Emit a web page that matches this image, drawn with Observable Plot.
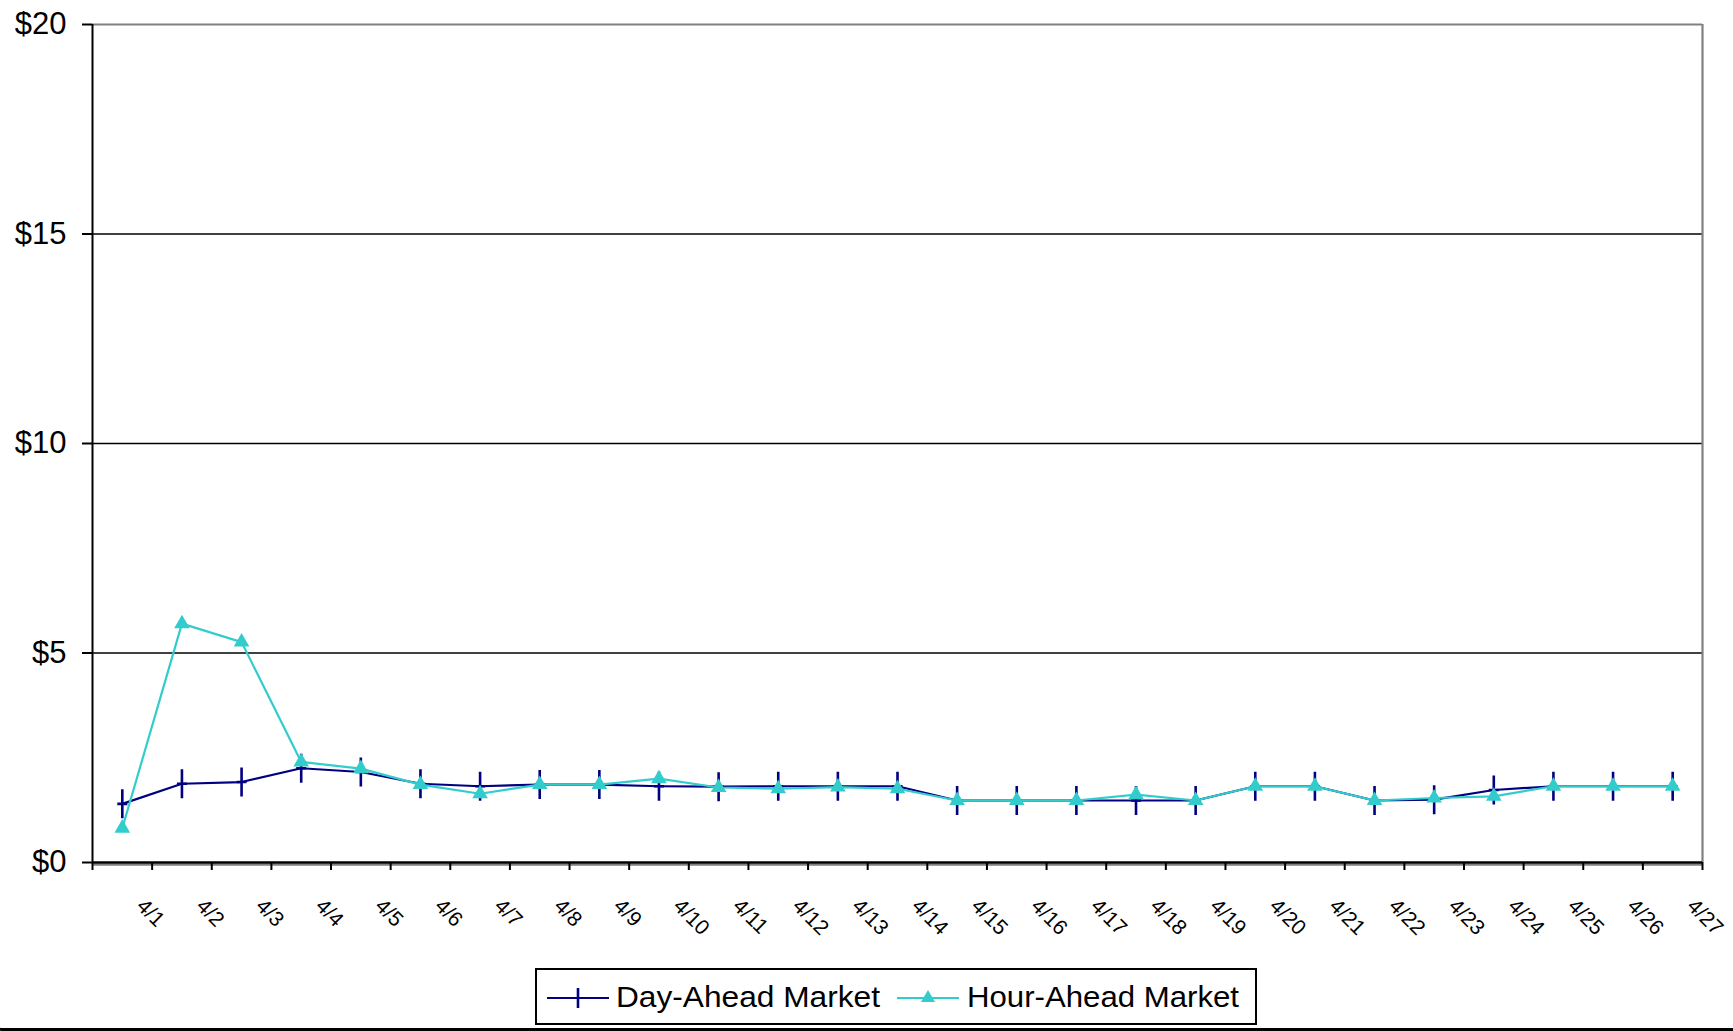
<!DOCTYPE html>
<html>
<head>
<meta charset="utf-8">
<script src="https://cdn.jsdelivr.net/npm/d3@7"></script>
<script src="https://cdn.jsdelivr.net/npm/@observablehq/plot@0.6"></script>
<style>
  html, body { margin: 0; padding: 0; background: #fff; }
  body { width: 1733px; height: 1031px; overflow: hidden; position: relative;
         font-family: "Liberation Sans", Arial, sans-serif; color: #000; }
  #chart { position: absolute; left: 0; top: 0; }
  #legend { position: absolute; left: 535px; top: 968px; }
  #frame { position: absolute; left: -10px; top: -20px; width: 1760px; height: 1051px;
           border: 3px solid #000; border-radius: 12px; box-sizing: border-box; pointer-events: none; }
</style>
</head>
<body>
<div id="frame"></div>
<div id="chart"></div>
<svg id="legend" width="722" height="58"></svg>
<script>
// ---- data ----
const dates = ["4/1","4/2","4/3","4/4","4/5","4/6","4/7","4/8","4/9","4/10","4/11","4/12","4/13","4/14",
               "4/15","4/16","4/17","4/18","4/19","4/20","4/21","4/22","4/23","4/24","4/25","4/26","4/27"];
const dayAhead  = [1.40,1.88,1.92,2.25,2.16,1.88,1.82,1.86,1.86,1.82,1.81,1.82,1.82,1.82,
                   1.48,1.48,1.48,1.48,1.48,1.82,1.82,1.48,1.50,1.73,1.82,1.82,1.82];
const hourAhead = [0.82,5.70,5.26,2.40,2.24,1.86,1.64,1.86,1.86,2.00,1.79,1.76,1.80,1.76,
                   1.48,1.48,1.48,1.62,1.48,1.82,1.82,1.48,1.54,1.58,1.82,1.82,1.82];
const yTicks = [0, 5, 10, 15, 20];
const yTickLabels = ["$0", "$5", "$10", "$15", "$20"];
const seriesNames = ["Day-Ahead Market", "Hour-Ahead Market"];
const seriesColors = ["#000080", "#33CCCC"];

// ---- derived table ----
const table = dates.map((d, i) => ({i, date: d, da: dayAhead[i], ha: hourAhead[i]}));
const boundaries = d3.range(dates.length + 1).map(k => k - 0.5);

const plusSym = {
  draw(ctx, size) {
    const r = Math.sqrt(size / Math.PI);
    ctx.moveTo(0, -r); ctx.lineTo(0, r);
    ctx.moveTo(-5, 0); ctx.lineTo(5, 0);
  }
};

const W = 1733, H = 960;
const svg = Plot.plot({
  width: W,
  height: H,
  marginLeft: 92,
  marginRight: 31,
  marginTop: 24,
  marginBottom: H - 862,
  style: {fontFamily: "'Liberation Sans', Arial, sans-serif", fontSize: "31px", color: "#000", background: "#fff", overflow: "visible"},
  x: {type: "linear", domain: [-0.5, dates.length - 0.5]},
  y: {type: "linear", domain: [0, 20]},
  marks: [
    Plot.ruleY([5, 10, 15], {stroke: "#000", strokeWidth: 1.5}),
    Plot.ruleY([20], {stroke: "#808080", strokeWidth: 2.2}),
    Plot.ruleX([dates.length - 0.5], {stroke: "#808080", strokeWidth: 2.2}),
    Plot.ruleY([0], {stroke: "#808080", strokeWidth: 2.2, dy: 2.2}),
    Plot.ruleY([0], {stroke: "#000", strokeWidth: 2.5}),
    Plot.ruleX([-0.5], {stroke: "#000", strokeWidth: 2}),
    Plot.axisX({ticks: boundaries, tickSize: 8, tickFormat: () => "", label: null, strokeWidth: 2, stroke: "#000"}),
    Plot.axisY({ticks: yTicks, tickSize: 10, tickPadding: 16, label: null, strokeWidth: 2, stroke: "#000",
                tickFormat: d => yTickLabels[yTicks.indexOf(d)], fontSize: 31, fill: "#000"}),
    Plot.text(table, {x: "i", y: () => 0, text: "date", rotate: 45, textAnchor: "start",
                      dx: 18, dy: 40, fontSize: 21, fill: "#000"}),
    Plot.line(table, {x: "i", y: "da", stroke: seriesColors[0], strokeWidth: 2.2}),
    Plot.dot(table, {x: "i", y: "da", symbol: plusSym, r: 14.5, stroke: seriesColors[0], strokeWidth: 2.6, fill: "none"}),
    Plot.line(table, {x: "i", y: "ha", stroke: seriesColors[1], strokeWidth: 2.2}),
    Plot.dot(table, {x: "i", y: "ha", symbol: "triangle", r: 5.8, fill: seriesColors[1], stroke: "none"})
  ]
});
document.getElementById("chart").appendChild(svg);

// ---- legend ----
const lg = d3.select("#legend");
lg.append("rect").attr("x", 1).attr("y", 1).attr("width", 720).attr("height", 55)
  .attr("fill", "#fff").attr("stroke", "#000").attr("stroke-width", 2);
const items = [
  {x0: 12, textX: 81, len: 264},
  {x0: 362, textX: 432, len: 272}
];
items.forEach((it, k) => {
  lg.append("line").attr("x1", it.x0).attr("x2", it.x0 + 62).attr("y1", 30).attr("y2", 30)
    .attr("stroke", seriesColors[k]).attr("stroke-width", 2.2);
  if (k === 0) {
    lg.append("line").attr("x1", it.x0 + 31).attr("x2", it.x0 + 31).attr("y1", 20).attr("y2", 40)
      .attr("stroke", seriesColors[k]).attr("stroke-width", 2.6);
  } else {
    lg.append("path").attr("transform", `translate(${it.x0 + 31},30)`)
      .attr("d", d3.symbol(d3.symbolTriangle, 85)()).attr("fill", seriesColors[k]);
  }
  lg.append("text").attr("x", it.textX).attr("y", 39)
    .attr("font-family", "'Liberation Sans', Arial, sans-serif").attr("font-size", 29)
    .attr("textLength", it.len).attr("lengthAdjust", "spacingAndGlyphs")
    .attr("fill", "#000").text(seriesNames[k]);
});
</script>
</body>
</html>
